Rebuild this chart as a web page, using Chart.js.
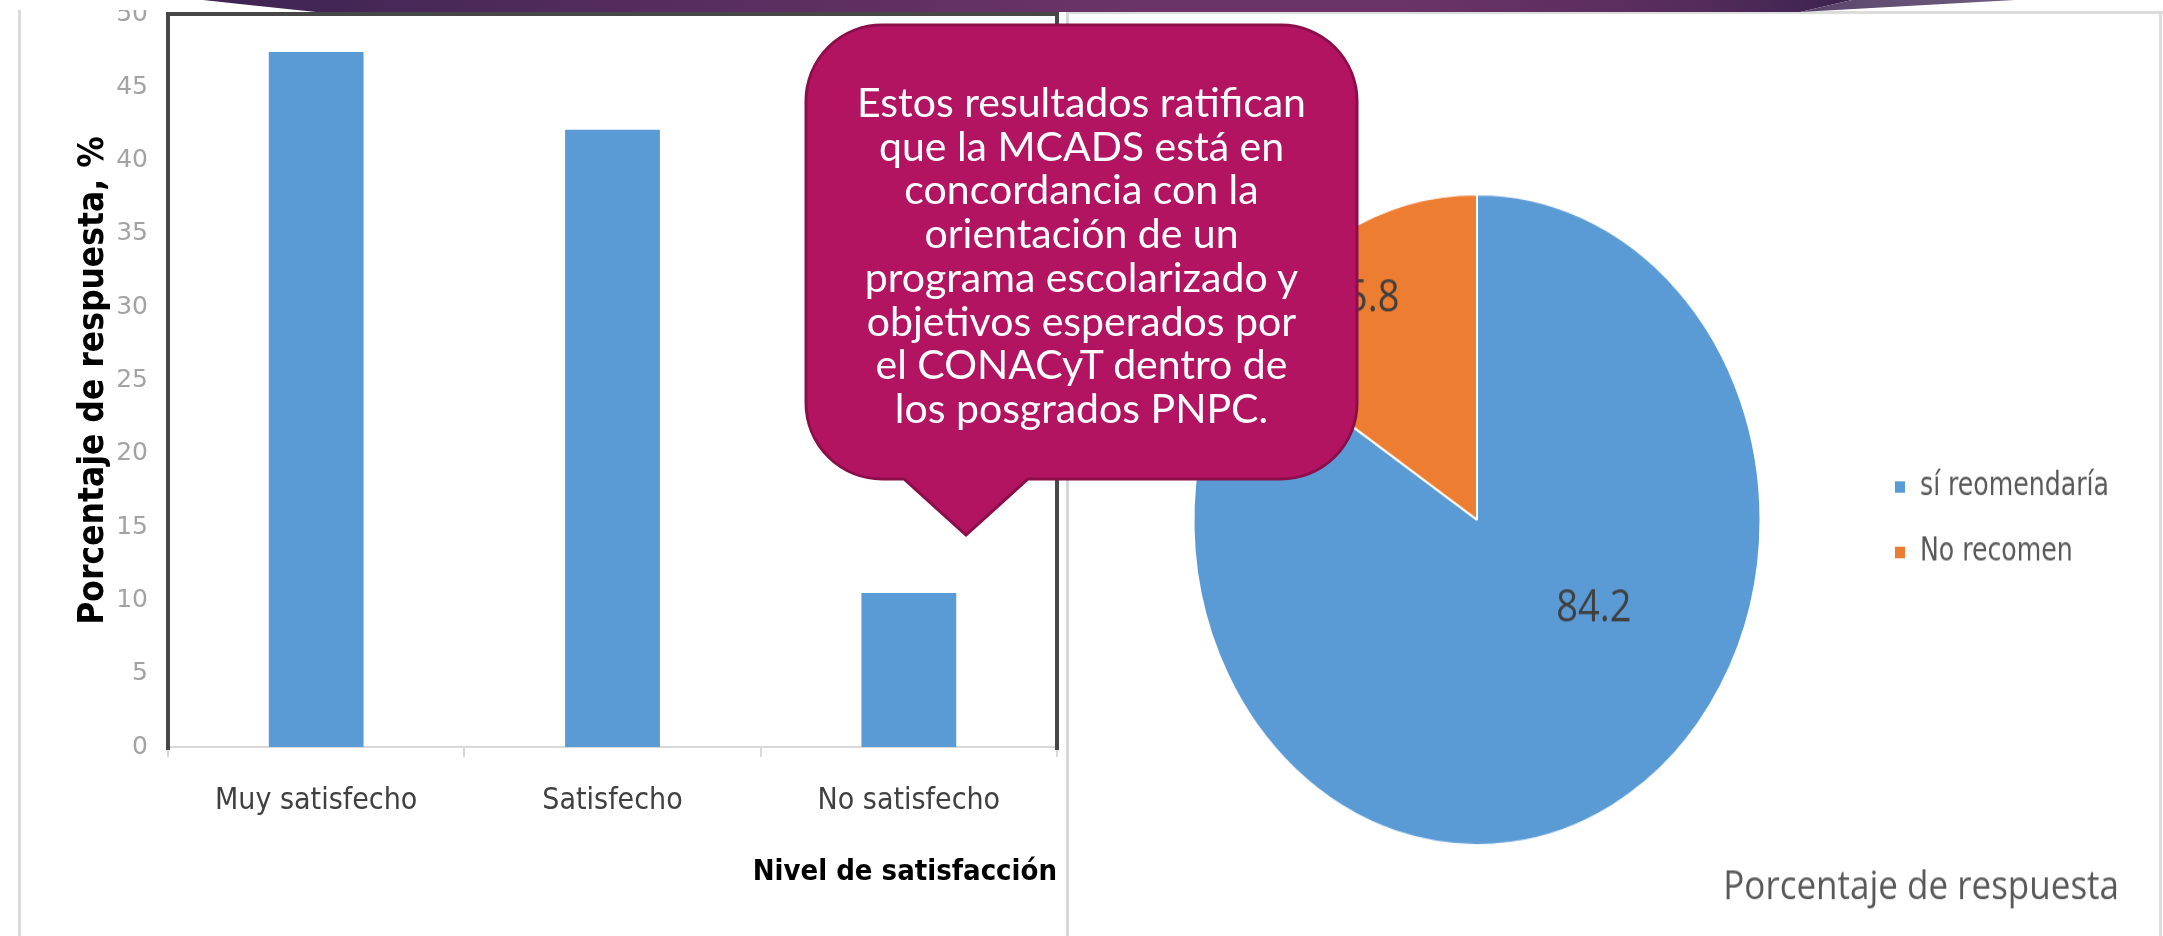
<!DOCTYPE html>
<html><head><meta charset="utf-8">
<script src="https://cdn.jsdelivr.net/npm/chart.js@4"></script>
<style>
html,body{margin:0;padding:0;background:#fff;width:2163px;height:936px;overflow:hidden;position:relative}
.abs{position:absolute}
#banner{left:0;top:0;width:2163px;height:14px;z-index:5;
  background:linear-gradient(to right,#3b2150 0%,#432655 15%,#5a2e60 35%,#6b3366 52%,#6b3366 65%,#552c5c 78%,#3e2350 85%,#3e2350 100%);
  clip-path:polygon(203px 0,1852px 0,1800px 12px,316px 12px)}
#wedge{left:0;top:0;width:2163px;height:14px;z-index:5;
  background:linear-gradient(to right,#584068 82%,#6e5e80 93%);
  clip-path:polygon(1800px 12px,1852px 0,2015px 0)}
#callText{left:806px;top:80px;width:551px;z-index:7;color:#fff;text-align:center;
  font-family:Lato,'Open Sans',sans-serif;font-size:41px;line-height:43.7px;white-space:nowrap}
</style></head><body>
<div class="abs" style="left:18px;top:10px;width:3px;height:926px;background:#dadada"></div>
<div class="abs" style="left:1066px;top:12px;width:3px;height:924px;background:#d6d6d6"></div>
<div class="abs" style="left:1068px;top:11px;width:1095px;height:3px;background:#dcdcdc"></div>
<div class="abs" style="left:2159px;top:11px;width:3px;height:925px;background:#dcdcdc"></div>

<div class="abs" style="left:20px;top:10px;width:1046px;height:926px;overflow:hidden">
  <canvas id="bar" width="1046" height="936" style="position:absolute;left:0;top:-10px;width:1046px;height:936px"></canvas>
</div>
<canvas id="pie" class="abs" width="1098" height="792" style="left:1062px;top:14px;width:1098px;height:792px;transform:scaleY(1.148);transform-origin:0 0"></canvas>

<div id="banner" class="abs"></div>
<div id="wedge" class="abs"></div>

<svg class="abs" style="left:0;top:0;z-index:6" width="2163" height="936">
  <path d="M882 25 H1281 A76 76 0 0 1 1357 101 V403 A76 76 0 0 1 1281 479 H1028 L966 535 L904 479 H882 A76 76 0 0 1 806 403 V101 A76 76 0 0 1 882 25 Z"
   fill="#b31462" stroke="#8b0e4b" stroke-width="3"/>
</svg>
<div id="callText" class="abs"></div>

<script>
// ---- data ----
const categories = ['Muy satisfecho', 'Satisfecho', 'No satisfecho'];
const satisfactionPct = [47.4, 42.1, 10.5];
const yAxisMax = 50;
const yAxisStep = 5;
const pieLabels = ['sí reomendaría', 'No recomen'];
const pieValues = [84.2, 15.8];
const calloutLines = [
  'Estos resultados ratifican',
  'que la MCADS está en',
  'concordancia con la',
  'orientación de un',
  'programa escolarizado y',
  'objetivos esperados por',
  'el CONACyT dentro de',
  'los posgrados PNPC.'
];

const NARROW = "'Liberation Sans Narrow','DejaVu Sans Condensed','Roboto Condensed','Open Sans Condensed','Liberation Sans',sans-serif";

document.getElementById('callText').innerHTML = calloutLines.map(l => '<div>' + l + '</div>').join('');

const framePlugin = {
  id: 'frame',
  afterDatasetsDraw(chart) {
    const {ctx, chartArea: {left, top, right, bottom}} = chart;
    ctx.save();
    ctx.strokeStyle = '#474747';
    ctx.lineWidth = 4;
    ctx.lineJoin = 'miter';
    ctx.beginPath();
    ctx.moveTo(left, bottom + 3);
    ctx.lineTo(left, top);
    ctx.lineTo(right, top);
    ctx.lineTo(right, bottom + 3);
    ctx.stroke();
    ctx.restore();
  }
};

new Chart(document.getElementById('bar'), {
  type: 'bar',
  data: {
    labels: categories,
    datasets: [{data: satisfactionPct, backgroundColor: '#5b9bd5', borderWidth: 0,
      barPercentage: 0.4, categoryPercentage: 0.8}]
  },
  options: {
    responsive: false, animation: false,
    layout: {padding: {left: 0, right: 9, top: 14, bottom: 0}},
    plugins: {legend: {display: false}, tooltip: {enabled: false}},
    scales: {
      y: {
        min: 0, max: yAxisMax,
        ticks: {stepSize: yAxisStep, color: '#a3a3a3', font: {family: "'DejaVu Sans',sans-serif", size: 25}, padding: 12},
        grid: {display: false}, border: {display: false},
        title: {display: true, text: 'Porcentaje de respuesta, %', color: '#000',
          font: {family: NARROW, size: 35, weight: 'bold'}, padding: {top: 53, bottom: 0}},
        afterFit(s) { s.width = 148; s.paddingTop = 0; s.paddingBottom = 0; }
      },
      x: {
        grid: {display: true, drawOnChartArea: false, drawTicks: true, tickLength: 10, color: '#d9d9d9', lineWidth: 2},
        border: {display: true, color: '#d9d9d9', width: 2},
        ticks: {color: '#404040', font: {family: NARROW, size: 30}, padding: 26},
        title: {display: true, text: 'Nivel de satisfacción', align: 'end', color: '#000',
          font: {family: NARROW, size: 29, weight: 'bold'}, padding: {top: 0, bottom: 46}},
        afterFit(s) { s.height = 189; s.paddingLeft = 0; s.paddingRight = 0; }
      }
    }
  },
  plugins: [framePlugin]
});

const pieValuePlugin = {
  id: 'pieValues',
  afterDatasetsDraw(chart, args, opts) {
    const {ctx} = chart;
    const meta = chart.getDatasetMeta(0);
    const values = chart.data.datasets[0].data;
    ctx.save();
    ctx.fillStyle = opts.color;
    ctx.font = opts.font;
    ctx.textAlign = 'center';
    ctx.textBaseline = 'middle';
    meta.data.forEach((arc, i) => {
      const p = arc.getProps(['x', 'y', 'startAngle', 'endAngle', 'outerRadius'], true);
      const a = (p.startAngle + p.endAngle) / 2 + opts.angleShift[i];
      const r = p.outerRadius * opts.radiusFrac[i];
      ctx.fillText(values[i].toFixed(1), p.x + Math.cos(a) * r, p.y + Math.sin(a) * r);
    });
    ctx.restore();
  }
};

new Chart(document.getElementById('pie'), {
  type: 'pie',
  data: {
    labels: pieLabels,
    datasets: [{data: pieValues, backgroundColor: ['#5b9bd5', '#ed7d31'], borderColor: '#fff', borderWidth: 2}]
  },
  options: {
    responsive: false, animation: false,
    layout: {padding: {left: 27, right: 41, top: 156, bottom: 0}},
    plugins: {
      tooltip: {enabled: false},
      legend: {position: 'right', align: 'center', fullSize: false,
        labels: {boxWidth: 12, boxHeight: 12, padding: 29, color: '#595959', font: {family: NARROW, size: 28}}},
      title: {display: true, position: 'bottom', align: 'end', text: 'Porcentaje de respuesta',
        color: '#595959', font: {family: "'Open Sans',sans-serif", size: 35, weight: 'normal'}, padding: {top: 15, bottom: 10}},
      pieValues: {color: '#404040', font: "38px 'Open Sans', sans-serif",
        angleShift: [-28 * Math.PI / 180, -2.5 * Math.PI / 180], radiusFrac: [0.495, 0.79]}
    }
  },
  plugins: [pieValuePlugin]
});
</script>
</body></html>
